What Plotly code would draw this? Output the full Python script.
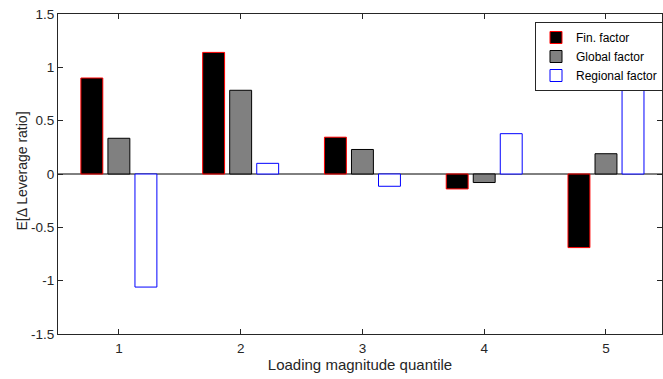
import plotly.graph_objects as go

quantiles = [1, 2, 3, 4, 5]
fin_factor = [0.90, 1.14, 0.345, -0.14, -0.69]
global_factor = [0.335, 0.785, 0.23, -0.08, 0.19]
regional_factor = [-1.06, 0.10, -0.115, 0.378, 1.25]

series = [
    ("Fin. factor", fin_factor, "#000000", "#ff0000", -0.312),
    ("Global factor", global_factor, "#808080", "#000000", -0.090),
    ("Regional factor", regional_factor, "#ffffff", "#0000ff", 0.132),
]

fig = go.Figure()
for name, vals, fill, edge, off in series:
    fig.add_trace(go.Bar(
        x=quantiles, y=vals, name=name, width=0.18, offset=off,
        marker=dict(color=fill, line=dict(color=edge, width=1)),
    ))

axis_col = "#262626"
font_family = "Liberation Sans, Arial"
common = dict(
    showline=True, mirror="ticks", linecolor=axis_col, linewidth=1,
    ticks="inside", ticklen=5, tickcolor=axis_col,
    showgrid=False, zeroline=False,
    tickfont=dict(family=font_family, size=13.5, color=axis_col),
)

fig.update_layout(
    width=663, height=379,
    margin=dict(l=58, r=0, t=14, b=45),
    paper_bgcolor="white", plot_bgcolor="white",
    barmode="overlay",
    showlegend=True,
    legend=dict(
        x=0.79, y=0.975, xanchor="left", yanchor="top",
        bgcolor="white", bordercolor=axis_col, borderwidth=1,
        font=dict(family=font_family, size=12, color="#000000"),
        tracegroupgap=0, itemwidth=30,
    ),
    xaxis=dict(
        range=[0.5, 5.46], tickvals=quantiles, ticktext=[str(q) for q in quantiles],
        ticklabelstandoff=2,
        title=dict(text="Loading magnitude quantile", standoff=3,
                   font=dict(family=font_family, size=15, color=axis_col)),
        **common,
    ),
    yaxis=dict(
        range=[-1.5, 1.5], tickvals=[-1.5, -1, -0.5, 0, 0.5, 1, 1.5],
        ticktext=["-1.5", "-1", "-0.5", "0", "0.5", "1", "1.5"],
        **common,
    ),
    annotations=[dict(
        text="E[\u0394 Leverage ratio]", textangle=-90,
        xref="paper", yref="paper", x=-0.060, y=0.51,
        xanchor="center", yanchor="middle", showarrow=False,
        font=dict(family=font_family, size=14, color=axis_col),
    )],
    shapes=[dict(type="line", xref="paper", yref="y", x0=0, x1=1, y0=0, y1=0,
                 line=dict(color="#000000", width=1), layer="below")],
)

fig.write_html("out.html")
